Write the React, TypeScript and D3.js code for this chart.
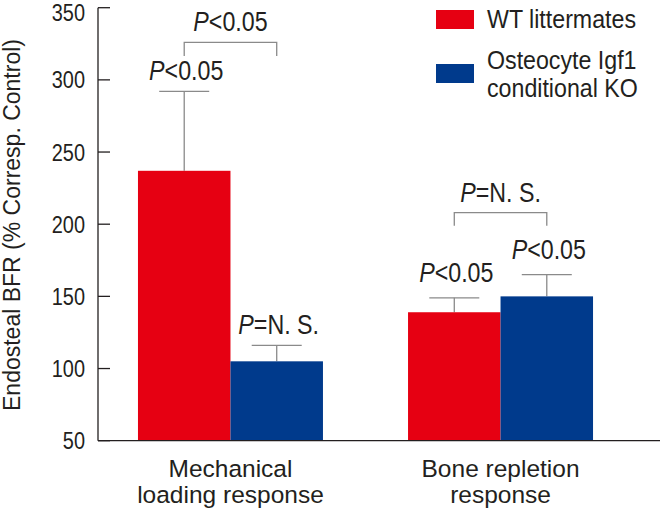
import React from "react";
import * as d3 from "d3";

const categories = ["Mechanical\nloading response", "Bone repletion\nresponse"];
const series = ["WT littermates", "Osteocyte Igf1\nconditional KO"];
const wtValues = [237, 139];
const koValues = [105, 150];
const wtErrTop = [292, 149];
const koErrTop = [116, 165];
const wtLabels = ["<0.05", "<0.05"];
const koLabels = ["=N. S.", "<0.05"];
const bracketLabels = ["<0.05", "=N. S."];
const bracketTop = [326, 208];
const bracketEnd = [316.5, 199];
const yTicks = [50, 100, 150, 200, 250, 300, 350];

const RED = "#e60012";
const BLUE = "#003a8c";
const GRAY = "#8a8a8a";
const INK = "#231f20";
const FONT = "'Liberation Sans', Arial, sans-serif";

type TProps = { x: number; y: number; size: number; sx?: number; anchor?: string; children: React.ReactNode };
const T = ({ x, y, size, sx = 1, anchor = "start", children }: TProps) => (
  <text transform={`translate(${x},${y}) scale(${sx},1)`} textAnchor={anchor} fontSize={size} fill={INK} fontFamily={FONT}>
    {children}
  </text>
);

export default function App() {
  const W = 660, H = 511;
  const axisX = 98;
  const y = d3.scaleLinear().domain([50, 350]).range([440.7, 7.7]);
  const x0 = d3.scaleBand<string>().domain(categories).range([98, 633]).paddingInner(0.315).paddingOuter(0.148);
  const x1 = d3.scaleBand<number>().domain([0, 1]).range([0, x0.bandwidth()]);
  const data = categories.map((c, i) => ({
    c,
    bars: [
      { v: wtValues[i], e: wtErrTop[i], color: RED, label: wtLabels[i], off: i === 0 ? 11 : 16 },
      { v: koValues[i], e: koErrTop[i], color: BLUE, label: koLabels[i], off: i === 0 ? 11 : 16 },
    ],
  }));
  const pSize = 28;
  const pSx = 0.83;
  const PText = ({ x, yy, rest }: { x: number; yy: number; rest: string }) => (
    <T x={x} y={yy} size={pSize} sx={pSx} anchor="middle">
      <tspan fontStyle="italic">P</tspan>
      <tspan>{rest}</tspan>
    </T>
  );
  return (
    <svg width={W} height={H} style={{ position: "absolute", left: 0, top: 0, background: "#fff" }}>
      {/* bars */}
      {data.map((g) => (
        <g key={g.c} transform={`translate(${x0(g.c)},0)`}>
          {g.bars.map((b, j) => {
            const bx = x1(j)!;
            const cx = bx + x1.bandwidth() / 2;
            const cw = 25;
            return (
              <g key={j}>
                <line x1={cx} x2={cx} y1={y(b.v)} y2={y(b.e)} stroke={GRAY} strokeWidth={1.3} />
                <line x1={cx - cw} x2={cx + cw} y1={y(b.e)} y2={y(b.e)} stroke={GRAY} strokeWidth={1.3} />
                <rect x={bx} y={y(b.v)} width={x1.bandwidth()} height={y(50) - y(b.v)} fill={b.color} />
                <PText x={cx + 2} yy={y(b.e) - b.off} rest={b.label} />
              </g>
            );
          })}
        </g>
      ))}
      {/* brackets */}
      {categories.map((c, i) => {
        const l = x0(c)! + x1(0)! + x1.bandwidth() / 2;
        const r = x0(c)! + x1(1)! + x1.bandwidth() / 2;
        return (
          <g key={c}>
            <path d={`M${l},${y(bracketEnd[i])}V${y(bracketTop[i])}H${r}V${y(bracketEnd[i])}`} fill="none" stroke={GRAY} strokeWidth={1.3} />
            <PText x={(l + r) / 2} yy={y(bracketTop[i]) - 11} rest={bracketLabels[i]} />
          </g>
        );
      })}
      {/* axes */}
      <line x1={axisX} x2={W} y1={y(50)} y2={y(50)} stroke={INK} strokeWidth={1.3} />
      <line x1={axisX} x2={axisX} y1={y(50)} y2={y(350)} stroke={INK} strokeWidth={1.3} />
      {yTicks.map((t) => (
        <g key={t}>
          <line x1={axisX} x2={axisX + 12} y1={y(t)} y2={y(t)} stroke={INK} strokeWidth={1.3} />
          <T x={85} y={Math.max(y(t) + 8.5, 20.7)} size={24} sx={0.83} anchor="end">{t}</T>
        </g>
      ))}
      <text transform={`translate(20,225) rotate(-90)`} textAnchor="middle" fontSize={23} fill={INK} fontFamily={FONT}>
        Endosteal BFR (% Corresp. Control)
      </text>
      {categories.map((c) => {
        const cx = x0(c)! + x0.bandwidth() / 2;
        return (
          <T key={c} x={cx} y={476.5} size={24.5} anchor="middle">
            {c.split("\n").map((s, k) => (
              <tspan key={k} x={0} y={k * 26.5}>{s}</tspan>
            ))}
          </T>
        );
      })}
      {/* legend */}
      {series.map((s, i) => (
        <g key={s}>
          <rect x={436} y={i === 0 ? 10 : 64} width={38} height={19} fill={i === 0 ? RED : BLUE} />
          <T x={487} y={i === 0 ? 27.5 : 68.5} size={25.5} sx={0.91}>
            {s.split("\n").map((t, k) => (
              <tspan key={k} x={0} y={k * 28.5}>{t}</tspan>
            ))}
          </T>
        </g>
      ))}
    </svg>
  );
}
